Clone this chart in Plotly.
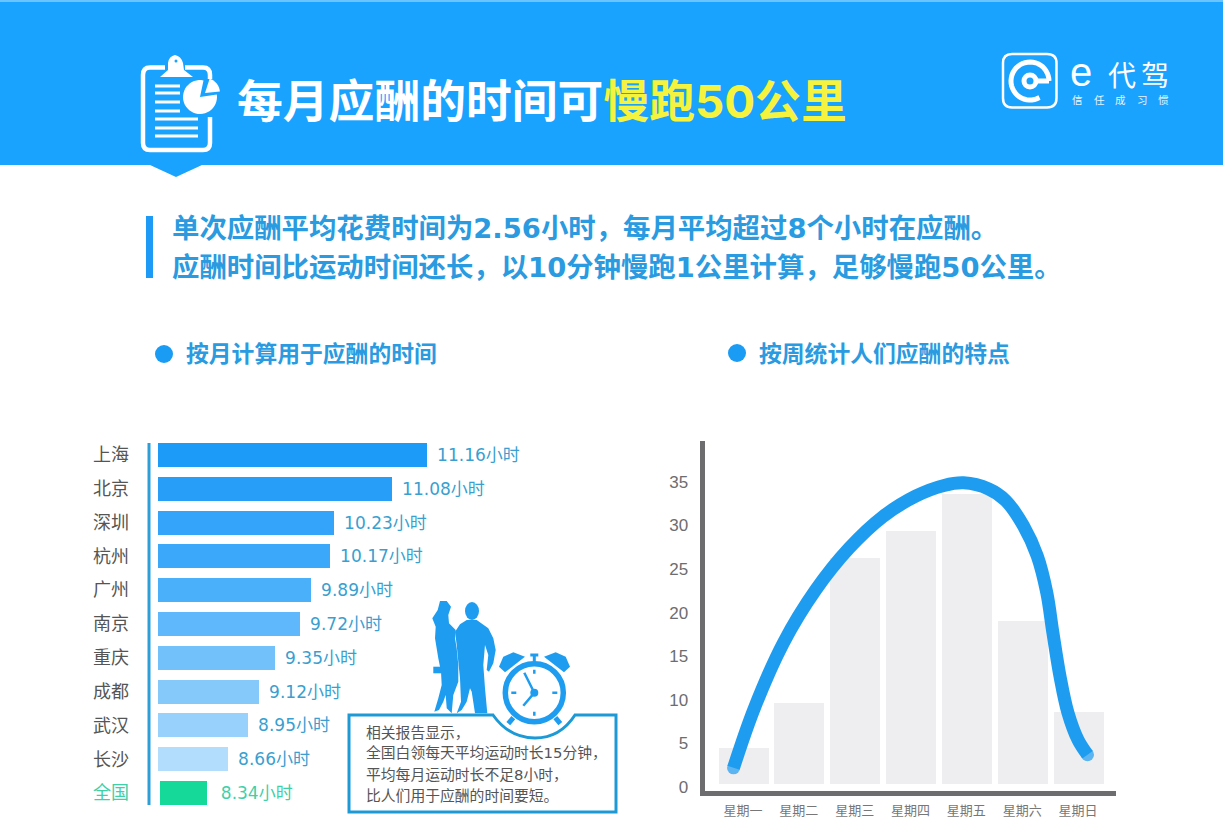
import math
import plotly.graph_objects as go

# left chart
cities = ['上海', '北京', '深圳', '杭州', '广州', '南京', '重庆', '成都', '武汉', '长沙', '全国']
hours = [11.16, 11.08, 10.23, 10.17, 9.89, 9.72, 9.35, 9.12, 8.95, 8.66, 8.34]
# the original draws 上海 longer than its label says, so lengths are kept apart from labels
hours_drawn = [11.6, 11.08, 10.23, 10.17, 9.89, 9.72, 9.35, 9.12, 8.95, 8.66, 8.34]
bar_colors = ['#1d9bf8', '#279ef8', '#33a4f9', '#3ba8f9', '#4bb0fa', '#5fb8fb',
              '#73c1fb', '#85c9fb', '#98d1fc', '#b2ddfc', '#14d998']
label_colors = ['#3a9fd0'] * 10 + ['#3fd0a8']

# right chart
days = ['星期一', '星期二', '星期三', '星期四', '星期五', '星期六', '星期日']
day_pos = [0, 1, 2, 3, 4, 5, 6]
day_values = [4.5, 9.6, 26.3, 29.4, 33.6, 19.0, 8.6]
y_ticks = [0, 5, 10, 15, 20, 25, 30, 35]
curve_x = [-0.17, 0.2, 0.72, 1.3, 1.9, 2.5, 3.1, 3.6, 3.95, 4.4, 4.7, 5.02, 5.27, 5.44, 5.55, 5.68, 5.82, 6.0, 6.17]
curve_y = [2.2, 9.0, 16.5, 22.6, 27.4, 31.0, 33.4, 34.6, 34.9, 34.2, 32.9, 30.0, 26.5, 22.3, 17.7, 12.6, 8.5, 5.4, 3.7]

W, H = 1223, 837
MAP_H = 831  # page rows come out slightly squeezed, so rows are mapped onto this height
FONT = 'Noto Sans CJK SC'
MIX = 'DejaVu Sans, Noto Sans CJK SC'
BLUE = '#1aa2ff'
TEXT_BLUE = '#2a9be0'
GREY = '#6d6d70'


def dom_x(a, b):
    return [a / W, b / W]


def dom_y(a, b):
    return [1 - b / MAP_H, 1 - a / MAP_H]


fig = go.Figure()

# left bars, first bar axis value is the left end of the axis
left_base = [7.62] * 10 + [7.65]
fig.add_trace(go.Bar(y=cities, x=[h - b for h, b in zip(hours_drawn, left_base)], base=left_base, orientation='h',
                     width=0.71, marker=dict(color=bar_colors, line_width=0),
                     text=['\u00a0\u200a' + str(h) + '小时' for h in hours[:-1]] + ['\u00a0\u00a0' + str(hours[-1]) + '小时'],
                     textposition='outside', cliponaxis=False, constraintext='none',
                     textfont=dict(color=label_colors, size=17, family=MIX),
                     xaxis='x', yaxis='y', showlegend=False))

# right bars and curve
fig.add_trace(go.Bar(x=day_pos, y=[v - 0.35 for v in day_values], base=0.35, width=0.895,
                     marker=dict(color='#eeeef0', line_width=0), xaxis='x2', yaxis='y2', showlegend=False))
end_sizes = [13] + [0] * (len(curve_x) - 2) + [13]
fig.add_trace(go.Scatter(x=curve_x, y=curve_y, mode='lines+markers',
                         line=dict(color='#1e9df0', width=13, shape='spline', smoothing=1),
                         marker=dict(color='#1e9df0', size=end_sizes, line_width=0),
                         xaxis='x2', yaxis='y2', showlegend=False))

# empty trace so the full page pixel axes exist
fig.add_trace(go.Scatter(x=[], y=[], xaxis='x3', yaxis='y3', showlegend=False))

shapes = []
anns = []


def rect(x0, y0, x1, y1, color):
    shapes.append(dict(type='rect', xref='x3', yref='y3', x0=x0, y0=y0, x1=x1, y1=y1,
                       fillcolor=color, line_width=0, layer='above'))


def circle(cx, cy, r, fill='rgba(0,0,0,0)', line='rgba(0,0,0,0)', lw=0):
    shapes.append(dict(type='circle', xref='x3', yref='y3', x0=cx - r, y0=cy - r, x1=cx + r, y1=cy + r,
                       fillcolor=fill, line=dict(color=line, width=lw), layer='above'))


def path(d, fill='rgba(0,0,0,0)', line='rgba(0,0,0,0)', lw=0):
    shapes.append(dict(type='path', xref='x3', yref='y3', path=d,
                       fillcolor=fill, line=dict(color=line, width=lw), layer='above'))


def arc(cx, cy, r, a0, a1):
    # arcs as short segments, angles in degrees, screen y going down
    n = max(4, int(abs(a1 - a0) / 8))
    out = []
    for i in range(n + 1):
        a = math.radians(a0 + (a1 - a0) * i / n)
        out.append(('L' if i else 'M') + f' {cx + r * math.cos(a):.1f},{cy + r * math.sin(a):.1f}')
    return ' '.join(out)


def poly(points, ox, oy):
    return 'M ' + ' L '.join(f'{ox + a / 3:.1f},{oy + b / 3:.1f}' for a, b in points) + ' Z'


def text(x, y, s, size, color, anchor='left', weight=None, family=FONT):
    anns.append(dict(xref='x3', yref='y3', x=x, y=y, text=s, showarrow=False, xanchor=anchor, yanchor='middle',
                     font=dict(size=size, color=color, family=family, weight=weight)))


# header band
rect(0, 0, W, 165, BLUE)
rect(0, 0, W, 2, '#6cc4ff')
path('M 150,165 L 202,165 L 176,177 Z', fill=BLUE)

# clipboard icon
path('M 165,67.5 L 150,67.5 Q 143,67.5 143,75 L 143,143 Q 143,150 150,150 L 203,150 Q 210,150 210,143 L 210,117', line='white', lw=4.5)
path('M 185,67.5 L 203,67.5 Q 210,67.5 210,75 L 210,79', line='white', lw=4.5)
path('M 175,55 Q 169,56 168,63 L 168,70 L 160,77 L 193,77 L 184,70 L 183,63 Q 181,56 175,55 Z', fill='white')
circle(176, 61, 1.5, fill=BLUE)
for yy in [86, 93, 102, 111]:
    path(f'M 155,{yy} L 180,{yy}', line='white', lw=3)
for yy in [119, 128, 136]:
    path(f'M 155,{yy} L 198,{yy}', line='white', lw=3)
path(arc(200, 97, 17, -8, 282) + ' L 200,97 Z', fill='white')
path(arc(205, 93, 15, -72, -6) + ' L 205,93 Z', fill='white')

# title
text(235, 101, '每月应酬的时间可<span style="color:#f6f33f">慢跑50公里</span>', 45.8, 'white', weight='bold', family='Inter, Noto Sans CJK SC')

# logo
path('M 1012,54 L 1047,54 Q 1056.5,54 1056.5,63 L 1056.5,98 Q 1056.5,107.5 1047,107.5 L 1012,107.5 Q 1003,107.5 1003,98 '
     'L 1003,63 Q 1003,54 1012,54 Z', line='white', lw=2.5)
path(arc(1030, 81, 19, 0, -300), line='white', lw=5)
circle(1030, 81, 6, line='white', lw=5)
path('M 1036,81 L 1049,81', line='white', lw=5)
text(1068, 72, 'e', 40, 'white', family='Liberation Sans')
text(1106, 74, '代', 28, 'white')
text(1139, 74, '驾', 28, 'white')
for i, ch in enumerate('信任成习惯'):
    text(1070 + 21.5 * i, 99, ch, 10.5, '#e8f5ff')

# summary block
rect(146, 216, 153, 278, '#1c9af5')
text(170, 228, '单次应酬平均花费时间为2.56小时，每月平均超过8个小时在应酬。', 27.4, TEXT_BLUE, weight='bold', family=MIX)
text(170, 267, '应酬时间比运动时间还长，以10分钟慢跑1公里计算，足够慢跑50公里。', 27.4, TEXT_BLUE, weight='bold', family=MIX)

# section titles
circle(164, 354, 9, fill='#1a9cf5')
text(184, 352.5, '按月计算用于应酬的时间', 22.8, TEXT_BLUE, weight='bold')
circle(737, 353, 9, fill='#1a9cf5')
text(757, 352.5, '按周统计人们应酬的特点', 22.8, TEXT_BLUE, weight='bold')

# rule beside the bars
rect(147.5, 443, 150.5, 805, '#2d9fd8')

# couple
SIL = '#1e9df0'
woman = [(45, 18), (65, 18), (78, 35), (70, 60), (72, 85), (92, 105), (90, 130), (95, 160), (100, 210), (100, 260), (85, 300),
         (80, 355), (65, 340), (62, 300), (55, 320), (42, 345), (28, 350), (40, 310), (50, 270), (48, 230), (40, 190),
         (30, 130), (32, 95), (22, 70), (38, 45)]
man = [(125, 75), (155, 75), (190, 100), (205, 130), (212, 165), (205, 205), (192, 230), (185, 225), (190, 180), (180, 150),
       (175, 210), (180, 280), (187, 355), (150, 355), (140, 290), (135, 280), (125, 320), (110, 345), (95, 355), (108, 320),
       (105, 250), (100, 200), (95, 150), (90, 110), (105, 88)]
path(poly(woman, 425, 595), fill=SIL)
path(poly(man, 425, 595), fill=SIL)
shapes.append(dict(type='circle', xref='x3', yref='y3', x0=465, y0=602, x1=479, y1=620, fillcolor=SIL, line_width=0, layer='above'))
path(poly([(25, 215), (50, 215), (50, 235), (25, 235)], 425, 595), fill=SIL)

# box with the dip under the clock
path('M 349,715 L 493,715 C 505,732 520,738 535,738 C 550,738 564,732 575,715 L 616,715 L 616,812 L 349,812 Z',
     fill='white', line='#1d9ad6', lw=3)

# clock
CX, CY = 534.3, 692.7
path(poly([(222, 215), (235, 185), (265, 172), (300, 185), (240, 232)], 425, 595), fill=SIL)
path(poly([(435, 215), (422, 185), (392, 172), (357, 185), (417, 232)], 425, 595), fill=SIL)
path(f'M {CX},655 L {CX},662 M {CX - 4},655 L {CX + 4},655', line=SIL, lw=3)
path(f'M {CX - 21},{CY + 25} L {CX - 26},{CY + 31} M {CX + 21},{CY + 25} L {CX + 26},{CY + 31}', line=SIL, lw=5)
circle(CX, CY, 29, fill='white', line=SIL, lw=5.5)
path(f'M {CX},{CY - 23} L {CX},{CY - 19} M {CX},{CY + 19} L {CX},{CY + 23} '
     f'M {CX - 23},{CY} L {CX - 18},{CY} M {CX + 18},{CY} L {CX + 23},{CY}', line=SIL, lw=2.5)
path(f'M {CX - 10},{CY - 20} L {CX},{CY} L {CX - 11},{CY + 13}', line=SIL, lw=2.5)
circle(CX, CY, 4, fill=SIL)

for i, s in enumerate(['相关报告显示，', '全国白领每天平均运动时长15分钟，', '平均每月运动时长不足8小时，', '比人们用于应酬的时间要短。']):
    text(364, [732, 752, 774, 795][i], s, 14.8, '#555555', family=MIX)

tick_labels = [c if c != '全国' else '<span style="color:#3fd0a8">全国</span>' for c in cities]

fig.update_layout(
    width=W, height=H, margin=dict(l=0, r=0, t=0, b=0, pad=0), autosize=False,
    paper_bgcolor='white', plot_bgcolor='rgba(0,0,0,0)', bargap=0, barmode='overlay',
    font=dict(family=FONT), shapes=shapes, annotations=anns,
    xaxis=dict(domain=dom_x(158, 540), range=[7.62, 13.28], visible=False, anchor='y'),
    yaxis=dict(domain=dom_y(438, 810), categoryorder='array', categoryarray=cities, range=[10.5, -0.5], anchor='x',
               tickvals=cities, ticktext=tick_labels, ticks='', showline=False, showgrid=False, zeroline=False,
               ticklabelstandoff=28, tickfont=dict(size=18, color='#555555', family=FONT)),
    xaxis2=dict(domain=dom_x(704.5, 1116), range=[-0.69, 6.68], anchor='y2', tickvals=day_pos, ticktext=days,
                showline=True, linecolor=GREY, linewidth=5, showgrid=False, zeroline=False, ticks='',
                ticklabelstandoff=4, tickfont=dict(size=13, color='#777777', family=FONT)),
    yaxis2=dict(domain=dom_y(441, 790.5), range=[-0.4, 39.7], anchor='x2', tickvals=y_ticks,
                showline=True, linecolor=GREY, linewidth=5, showgrid=False, zeroline=False, ticks='',
                ticklabelstandoff=8, tickfont=dict(size=17, color='#6d6d70', family='Liberation Sans')),
    xaxis3=dict(domain=[0, 1], range=[0, W], visible=False, anchor='y3', fixedrange=True),
    yaxis3=dict(domain=[0, 1], range=[MAP_H, 0], visible=False, anchor='x3', fixedrange=True),
)

fig.write_html('out.html', config={'displayModeBar': False},
               post_script="var s=document.documentElement.style;s.height='837px';s.overflow='hidden';"
                           "s=document.body.style;s.margin='0';s.height='837px';s.overflow='hidden';")
